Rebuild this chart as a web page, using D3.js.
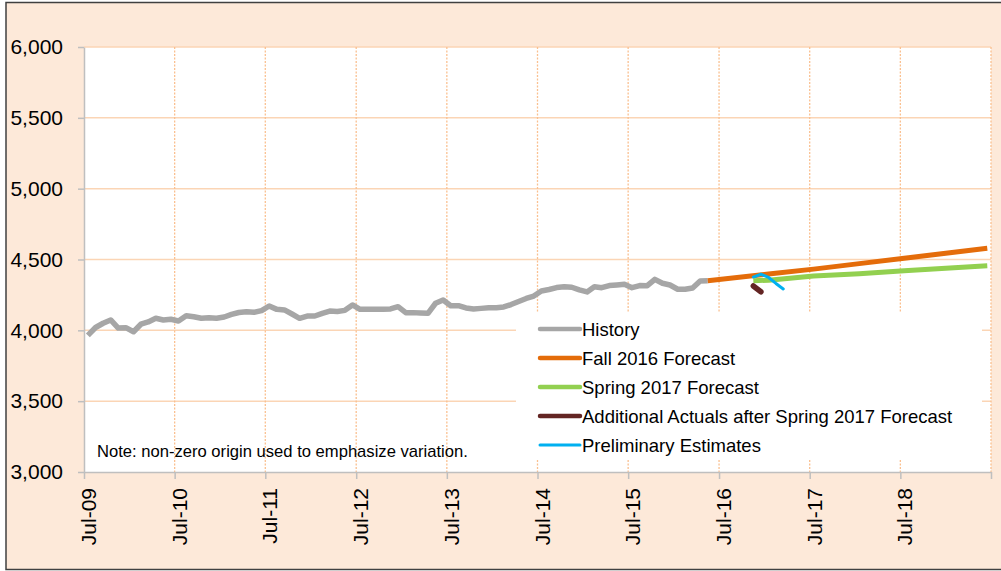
<!DOCTYPE html>
<html>
<head>
<meta charset="utf-8">
<script src="https://cdn.jsdelivr.net/npm/d3@7"></script>
<style>
body { margin: 0; background: #fff; }
text { font-family: "Liberation Sans", Arial, sans-serif; }
</style>
</head>
<body>
<svg width="1001" height="571"></svg>
<script>
// monthly history, Jul-09 .. May-16
var historyStart = "2009-07";
var historyValues = [
    3964, 4020, 4050, 4073, 4016, 4019, 3990, 4043, 4059, 4085, 4073, 4078,
    4066, 4103, 4096, 4085, 4089, 4085, 4094, 4112, 4126, 4131, 4127, 4139,
    4172, 4148, 4144, 4115, 4085, 4101, 4101, 4120, 4136, 4133, 4141, 4179,
    4148, 4148, 4148, 4148, 4151, 4167, 4125, 4125, 4122, 4120, 4191, 4214,
    4174, 4174, 4158, 4151, 4155, 4159, 4160, 4165, 4182, 4204, 4225, 4242,
    4278, 4288, 4302, 4308, 4304, 4285, 4271, 4308, 4301, 4316, 4320, 4325,
    4301, 4316, 4315, 4360, 4332, 4320, 4290, 4290, 4299, 4348, 4350
];

var fallMonths = ["2016-05", "2017-01", "2017-07", "2018-01", "2018-07", "2019-01", "2019-06"];
var fallValues = [4350, 4397, 4432, 4471, 4509, 4547, 4579];

var springMonths = ["2016-11", "2017-01", "2017-07", "2018-01", "2018-07", "2019-01", "2019-06"];
var springValues = [4350, 4354, 4384, 4400, 4421, 4440, 4456];

var actualMonths = ["2016-11", "2016-12"];
var actualValues = [4313, 4272];

var prelimMonths = ["2016-11", "2016-12", "2017-01", "2017-02", "2017-03"];
var prelimValues = [4376, 4396, 4373, 4331, 4292];

var yTicks = [3000, 3500, 4000, 4500, 5000, 5500, 6000];
var xTickMonths = ["2009-07", "2010-07", "2011-07", "2012-07", "2013-07", "2014-07",
    "2015-07", "2016-07", "2017-07", "2018-07", "2019-07"];

var seriesNames = ["History", "Fall 2016 Forecast", "Spring 2017 Forecast",
    "Additional Actuals after Spring 2017 Forecast", "Preliminary Estimates"];
var seriesColors = ["#A6A6A6", "#E46C0A", "#92D050", "#632523", "#00B0F0"];

var parseMonth = d3.timeParse("%Y-%m");

var svg = d3.select("svg"),
    plot = {left: 84, right: 991, top: 47, bottom: 472};

// chart background
svg.append("rect")
    .attr("x", 6).attr("y", 2.5)
    .attr("width", 1010).attr("height", 567)
    .attr("fill", "#FDE9D9")
    .attr("stroke", "#404040")
    .attr("stroke-width", 1.5);

svg.append("rect")
    .attr("x", plot.left).attr("y", plot.top)
    .attr("width", plot.right - plot.left).attr("height", plot.bottom - plot.top)
    .attr("fill", "#fff");

var x = d3.scaleTime()
    .domain([parseMonth("2009-07"), parseMonth("2019-07")])
    .range([plot.left, plot.right]);

var y = d3.scaleLinear()
    .domain([3000, 6000])
    .range([plot.bottom, plot.top]);

// points sit in the middle of their month
function mid(d) {
    return (x(d) + x(d3.timeMonth.offset(d, 1))) / 2;
}

// grid
svg.append("g").selectAll("line")
    .data(yTicks.slice(1))
    .enter().append("line")
    .attr("x1", plot.left).attr("x2", plot.right)
    .attr("y1", function (d) { return y(d); })
    .attr("y2", function (d) { return y(d); })
    .attr("stroke", "#FBD5B5")
    .attr("stroke-width", 1.5);

svg.append("g").selectAll("line")
    .data(xTickMonths.slice(1))
    .enter().append("line")
    .attr("x1", function (d) { return x(parseMonth(d)); })
    .attr("x2", function (d) { return x(parseMonth(d)); })
    .attr("y1", plot.top).attr("y2", plot.bottom)
    .attr("stroke", "#FAC090")
    .attr("stroke-width", 1.3)
    .attr("stroke-dasharray", "2,1.5");

// legend box sits over the grid
svg.append("rect")
    .attr("x", 516).attr("y", 313)
    .attr("width", 466).attr("height", 147)
    .attr("fill", "#fff");

// axes
var yAxis = svg.append("g")
    .attr("transform", "translate(" + plot.left + ",0)")
    .call(d3.axisLeft(y).tickValues(yTicks).tickSize(6).tickSizeOuter(0)
        .tickPadding(15).tickFormat(d3.format(",")));

var xAxis = svg.append("g")
    .attr("transform", "translate(0," + plot.bottom + ")")
    .call(d3.axisBottom(x)
        .tickValues(xTickMonths.map(parseMonth))
        .tickSize(7).tickSizeOuter(0)
        .tickFormat(function (d) {
            return d.getFullYear() < 2019 ? d3.timeFormat("%b-%y")(d) : "";
        }));

[yAxis, xAxis].forEach(function (a) {
    a.select(".domain").attr("stroke", "#BFBFBF").attr("stroke-width", 1.5);
    a.selectAll(".tick line").attr("stroke", "#BFBFBF").attr("stroke-width", 1.5);
    a.selectAll("text").attr("fill", "#000").style("font-size", "21px")
        .style("font-family", "'Liberation Sans', Arial, sans-serif");
});

xAxis.selectAll("text")
    .attr("transform", "rotate(-90)")
    .attr("text-anchor", "end")
    .attr("x", -16)
    .attr("y", 11.5)
    .attr("dy", null);

// series
var historyStartDate = parseMonth(historyStart);
var series = [
    historyValues.map(function (v, i) {
        return {date: d3.timeMonth.offset(historyStartDate, i), value: v};
    }),
    fallMonths.map(function (m, i) { return {date: parseMonth(m), value: fallValues[i]}; }),
    springMonths.map(function (m, i) { return {date: parseMonth(m), value: springValues[i]}; }),
    actualMonths.map(function (m, i) { return {date: parseMonth(m), value: actualValues[i]}; }),
    prelimMonths.map(function (m, i) { return {date: parseMonth(m), value: prelimValues[i]}; })
];
var widths = [5.5, 5, 5, 5.5, 3];
var caps = ["butt", "butt", "butt", "round", "round"];

var line = d3.line()
    .x(function (d) { return mid(d.date); })
    .y(function (d) { return y(d.value); });

svg.append("g").selectAll("path")
    .data(series)
    .enter().append("path")
    .attr("d", line)
    .attr("fill", "none")
    .attr("stroke", function (d, i) { return seriesColors[i]; })
    .attr("stroke-width", function (d, i) { return widths[i]; })
    .attr("stroke-linecap", function (d, i) { return caps[i]; })
    .attr("stroke-linejoin", "round");

// legend
var legend = svg.append("g").selectAll("g")
    .data(seriesNames)
    .enter().append("g")
    .attr("transform", function (d, i) { return "translate(540," + (329 + i * 29) + ")"; });

legend.append("line")
    .attr("x1", 0).attr("x2", 40)
    .attr("stroke", function (d, i) { return seriesColors[i]; })
    .attr("stroke-width", function (d, i) { return i == 4 ? 3 : 4.5; })
    .attr("stroke-linecap", "round");

legend.append("text")
    .attr("x", 42)
    .attr("dy", "0.36em")
    .style("font-size", "18.5px")
    .attr("fill", "#000")
    .text(function (d) { return d; });

svg.append("text")
    .attr("x", 97).attr("y", 457)
    .style("font-size", "16.6px")
    .attr("fill", "#000")
    .text("Note: non-zero origin used to emphasize variation.");
</script>
</body>
</html>
